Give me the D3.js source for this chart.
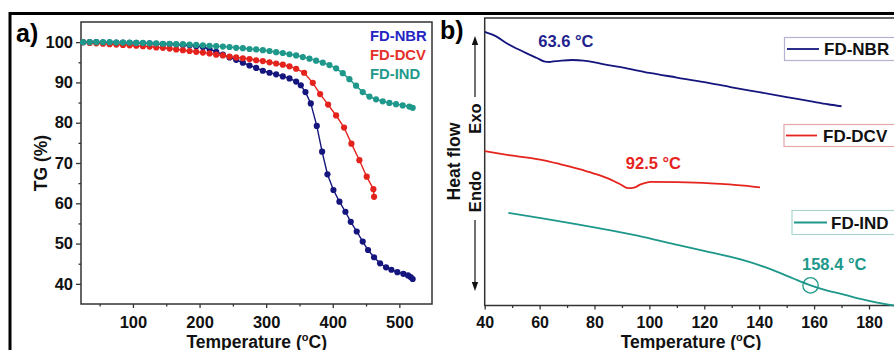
<!DOCTYPE html>
<html>
<head>
<meta charset="utf-8">
<script src="https://cdn.jsdelivr.net/npm/d3@7"></script>
<style>
  body { margin: 0; background: #fff; }
  svg text { font-family: "Liberation Sans", Arial, sans-serif; font-weight: bold; }
</style>
</head>
<body>
<script>
// ---- data: panel a) TG curves (temperature in C, TG in %)
const nbrT  = [25,35,45,55,65,75,85,95,105,115,125,135,145,155,165,175,185,195,205,215,225,235,245,255,265,275,285,295,305,315,325,335,345,352,359,367,376,384,392,401,410,419,427,436,445,453,462,471,480,488,497,506,513,517,520];
const nbrTG = [100,100,100,99.9,99.9,99.9,99.9,99.8,99.8,99.7,99.7,99.6,99.5,99.5,99.4,99.3,99.2,99.0,98.8,98.3,97.6,96.9,96.2,95.6,94.9,94.2,93.6,92.9,92.4,92.0,91.5,91.0,90.2,89.3,87.6,84.8,79.2,72.8,67.2,63.3,60.4,57.9,55.4,53.0,50.5,48.4,46.6,45.1,44.1,43.5,42.9,42.5,42.1,41.7,41.2];

const dcvT  = [25,35,45,55,65,75,85,95,105,115,125,135,145,155,165,175,185,195,205,215,225,235,245,255,265,275,285,295,305,315,325,335,345,357,370,381,393,405,417,428,440,451,461,462];
const dcvTG = [100,99.8,99.7,99.6,99.5,99.4,99.3,99.2,99.1,99.0,98.9,98.7,98.6,98.4,98.2,98.0,97.8,97.6,97.4,97.2,96.9,96.7,96.4,96.2,96.0,95.8,95.5,95.3,95.0,94.7,94.4,94.0,93.4,92.4,89.9,87.1,84.5,81.8,78.8,74.8,70.7,66.6,63.5,61.6];

const indT  = [25,35,45,55,65,75,85,95,105,115,125,135,145,155,165,175,185,195,205,215,225,235,245,255,265,275,285,295,305,315,325,335,345,355,365,375,385,395,405,415,425,435,445,455,465,475,485,495,505,515,520];
const indTG = [100,100,100,100,100,99.9,99.9,99.9,99.8,99.8,99.7,99.7,99.6,99.6,99.5,99.5,99.4,99.3,99.2,99.1,99.0,98.9,98.8,98.6,98.5,98.3,98.2,98.0,97.8,97.5,97.3,97.0,96.7,96.3,95.9,95.4,94.9,94.3,93.5,92.3,90.8,89.2,87.6,86.5,85.8,85.3,84.9,84.6,84.3,84.0,83.7];

const tgXTicks = [100,200,300,400,500];
const tgXMinor = [50,150,250,350,450];
const tgYTicks = [40,50,60,70,80,90,100];
const tgYMinor = [45,55,65,75,85,95];

// ---- data: panel b) DSC curves (temperature in C, heat flow in arbitrary units)
const nbrDscT = [40,44,48,52,55.3,59,62,63.6,65,68,72,76,80,85,90,100,110,120,130,140,150,160,165,170];
const nbrDscH = [95.2,93.7,91.2,89.2,87.7,86.1,84.8,84.7,84.9,85.2,85.4,85.2,84.6,83.6,82.8,80.9,79.3,77.7,75.9,74.2,72.5,70.8,70.0,69.3];

const dcvDscT = [40,49.5,61.6,67.7,73.8,79.8,85.9,89.5,92.2,94.4,96.8,100.5,110.2,122.3,134.5,140.3];
const dcvDscH = [53.7,52.2,50.5,49.1,47.6,45.9,43.8,42.1,40.8,41.0,42.1,43.0,42.9,42.5,41.7,41.1];

const indDscT = [48.6,61.6,73.8,85.9,98,110.2,122.3,134.5,140.5,146.6,152.6,158.7,164.8,170.9,176.9,183,189];
const indDscH = [32.2,30.2,28.2,26.1,23.8,21.1,18.5,15.7,13.9,11.7,9.3,7.0,5.2,3.8,2.3,1.0,0];

const dscXTicks = [40,60,80,100,120,140,160,180];
const dscXMinor = [50,70,90,110,130,150,170,190];

// transitions marked on panel b
const transitions = [
  {label: "63.6 °C",  t: 59.5,  h: 89.8, key: "nbr"},
  {label: "92.5 °C",  t: 91.4,  h: 47.6, key: "dcv"},
  {label: "158.4 °C", t: 155.6, h: 12.4, key: "ind"}
];

const names = {nbr: "FD-NBR", dcv: "FD-DCV", ind: "FD-IND"};
const lineColor = {nbr: "#15157e", dcv: "#e5231d", ind: "#1d988a"};
const textColor = {nbr: "#2525c4", dcv: "#e5302a", ind: "#22998b"};
const boxColor  = {nbr: "#b4b4d2", dcv: "#e4a8a8", ind: "#a8d6cf"};

const zip = (xs, ys) => xs.map((x, i) => [x, ys[i]]);

let svg = d3.select("body").append("svg")
  .attr("width", 894)
  .attr("height", 350);

// outer black frame (cropped at right and bottom)
svg.append("path")
  .attr("d", "M10,352V13.5H896")
  .attr("fill", "none")
  .attr("stroke", "#000")
  .attr("stroke-width", 3);

//---------------------------------------
// panel a) TG
let boxA = {left: 81, top: 22, right: 432, bottom: 304};
let xA = d3.scaleLinear().domain([22, 549]).range([boxA.left, boxA.right]);
let yA = d3.scaleLinear().domain([35, 105]).range([boxA.bottom, boxA.top]);

let gA = svg.append("g");

function styleAxis(g, size) {
  g.select(".domain").remove();
  g.selectAll("line").attr("stroke", "#333").attr("stroke-width", 1.3);
  g.selectAll("text").attr("font-size", size).attr("fill", "#111");
}

gA.append("g").attr("transform", `translate(0,${boxA.bottom})`)
  .call(d3.axisBottom(xA).tickValues(tgXTicks).tickSize(4).tickPadding(8))
  .call(g => styleAxis(g, 16.5));
gA.append("g").attr("transform", `translate(0,${boxA.bottom})`)
  .call(d3.axisBottom(xA).tickValues(tgXMinor).tickSize(2.5).tickFormat(""))
  .call(g => styleAxis(g, 0));
gA.append("g").attr("transform", `translate(${boxA.left},0)`)
  .call(d3.axisLeft(yA).tickValues(tgYTicks).tickSize(5).tickPadding(3))
  .call(g => styleAxis(g, 16.5));
gA.append("g").attr("transform", `translate(${boxA.left},0)`)
  .call(d3.axisLeft(yA).tickValues(tgYMinor).tickSize(2.5).tickFormat(""))
  .call(g => styleAxis(g, 0));

gA.append("rect")
  .attr("x", boxA.left).attr("y", boxA.top)
  .attr("width", boxA.right - boxA.left).attr("height", boxA.bottom - boxA.top)
  .attr("fill", "none").attr("stroke", "#333").attr("stroke-width", 1.5);

let tgSeries = [
  {key: "nbr", pts: zip(nbrT, nbrTG)},
  {key: "dcv", pts: zip(dcvT, dcvTG)},
  {key: "ind", pts: zip(indT, indTG)}
];
let lineA = d3.line().x(d => xA(d[0])).y(d => yA(d[1]));

tgSeries.forEach(s => {
  gA.append("path")
    .attr("d", lineA(s.pts))
    .attr("fill", "none")
    .attr("stroke", lineColor[s.key])
    .attr("stroke-width", 1.4);
  gA.selectAll(".dot-" + s.key)
    .data(s.pts)
    .enter()
    .append("circle")
    .attr("class", "dot-" + s.key)
    .attr("cx", d => xA(d[0]))
    .attr("cy", d => yA(d[1]))
    .attr("r", 3.1)
    .attr("fill", lineColor[s.key]);
});

// legend a)
tgSeries.forEach((s, i) => {
  gA.append("text")
    .attr("x", 370)
    .attr("y", 40.5 + i * 19.2)
    .attr("font-size", 14.8)
    .attr("fill", textColor[s.key])
    .text(names[s.key]);
});

gA.append("text")
  .attr("transform", "translate(47,163) rotate(-90)")
  .attr("text-anchor", "middle")
  .attr("font-size", 17.5)
  .attr("fill", "#111")
  .text("TG (%)");

function tempLabel(g, cx) {
  let t = g.append("text")
    .attr("x", cx).attr("y", 347.5)
    .attr("text-anchor", "middle")
    .attr("font-size", 17.5)
    .attr("fill", "#111");
  t.append("tspan").text("Temperature (");
  t.append("tspan").attr("font-size", 11).attr("dy", -7).text("o");
  t.append("tspan").attr("dy", 7).text("C)");
}
tempLabel(gA, 256.7);

svg.append("text")
  .attr("x", 16).attr("y", 41.5)
  .attr("font-size", 25).attr("fill", "#000")
  .text("a)");

//---------------------------------------
// panel b) DSC
let boxB = {left: 484.7, top: 18, bottom: 305.5};
let xB = d3.scaleLinear().domain([40, 200]).range([boxB.left, boxB.left + 160 * 2.745]);
let yB = d3.scaleLinear().domain([0, 100]).range([boxB.bottom, boxB.top]);

let gB = svg.append("g");

gB.append("g").attr("transform", `translate(0,${boxB.bottom})`)
  .call(d3.axisBottom(xB).tickValues(dscXTicks).tickSize(4).tickPadding(7))
  .call(g => styleAxis(g, 16));
gB.append("g").attr("transform", `translate(0,${boxB.bottom})`)
  .call(d3.axisBottom(xB).tickValues(dscXMinor).tickSize(2.5).tickFormat(""))
  .call(g => styleAxis(g, 0));

gB.append("rect")
  .attr("x", boxB.left).attr("y", boxB.top)
  .attr("width", xB(200) - boxB.left).attr("height", boxB.bottom - boxB.top)
  .attr("fill", "none").attr("stroke", "#333").attr("stroke-width", 1.5);

let dscSeries = [
  {key: "nbr", pts: zip(nbrDscT, nbrDscH)},
  {key: "dcv", pts: zip(dcvDscT, dcvDscH)},
  {key: "ind", pts: zip(indDscT, indDscH)}
];
let lineB = d3.line().curve(d3.curveMonotoneX).x(d => xB(d[0])).y(d => yB(d[1]));

dscSeries.forEach(s => {
  gB.append("path")
    .attr("d", lineB(s.pts))
    .attr("fill", "none")
    .attr("stroke", lineColor[s.key])
    .attr("stroke-width", 1.8);
});

transitions.forEach(d => {
  gB.append("text")
    .attr("x", xB(d.t)).attr("y", yB(d.h))
    .attr("font-size", 16.5)
    .attr("fill", d.key == "nbr" ? "#22228e" : lineColor[d.key])
    .text(d.label);
});

// circle round the IND glass transition
gB.append("circle")
  .attr("cx", xB(158.7)).attr("cy", yB(7.0))
  .attr("r", 7.7)
  .attr("fill", "none")
  .attr("stroke", lineColor.ind)
  .attr("stroke-width", 1.3);

// legend boxes b)
let legB = [
  {key: "nbr", x: 784.5, y: 37.5, h: 23, lx: 787, lw: 32, tx: 824},
  {key: "dcv", x: 784,   y: 124.5, h: 22, lx: 786, lw: 31, tx: 823},
  {key: "ind", x: 792,   y: 210.5, h: 24, lx: 794, lw: 33, tx: 831}
];
legB.forEach(d => {
  gB.append("rect")
    .attr("x", d.x).attr("y", d.y)
    .attr("width", 140).attr("height", d.h)
    .attr("fill", "#fff")
    .attr("stroke", boxColor[d.key]).attr("stroke-width", 1.2);
  gB.append("line")
    .attr("x1", d.lx).attr("x2", d.lx + d.lw)
    .attr("y1", d.y + d.h / 2).attr("y2", d.y + d.h / 2)
    .attr("stroke", lineColor[d.key]).attr("stroke-width", 1.8);
  gB.append("text")
    .attr("x", d.tx).attr("y", d.y + d.h / 2 + 6)
    .attr("font-size", 17)
    .attr("fill", "#111")
    .text(names[d.key]);
});

// heat flow arrow with Exo / Endo
let ax = 475;
gB.append("line").attr("x1", ax).attr("x2", ax).attr("y1", 44).attr("y2", 97)
  .attr("stroke", "#111").attr("stroke-width", 1.2);
gB.append("line").attr("x1", ax).attr("x2", ax).attr("y1", 220).attr("y2", 283)
  .attr("stroke", "#111").attr("stroke-width", 1.2);
gB.append("path").attr("d", `M${ax},36L${ax - 3.2},45L${ax + 3.2},45Z`).attr("fill", "#111");
gB.append("path").attr("d", `M${ax},291L${ax - 3.2},282L${ax + 3.2},282Z`).attr("fill", "#111");

gB.append("text")
  .attr("transform", `translate(${ax + 5.5},118.5) rotate(-90)`)
  .attr("text-anchor", "middle").attr("font-size", 16.5).attr("fill", "#111")
  .text("Exo");
gB.append("text")
  .attr("transform", `translate(${ax + 5.5},191.5) rotate(-90)`)
  .attr("text-anchor", "middle").attr("font-size", 16.5).attr("fill", "#111")
  .text("Endo");
gB.append("text")
  .attr("transform", "translate(459.5,161.5) rotate(-90)")
  .attr("text-anchor", "middle").attr("font-size", 17.5).attr("fill", "#111")
  .text("Heat flow");

tempLabel(gB, 691);

svg.append("text")
  .attr("x", 440).attr("y", 38.5)
  .attr("font-size", 25).attr("fill", "#000")
  .text("b)");
</script>
</body>
</html>
